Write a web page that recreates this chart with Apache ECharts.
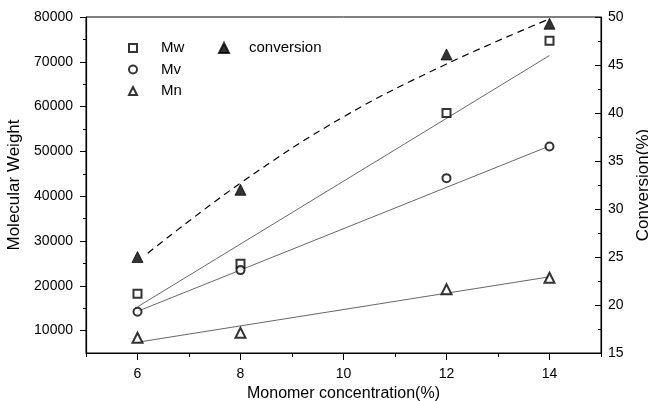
<!DOCTYPE html>
<html>
<head>
<meta charset="utf-8">
<script src="https://cdn.jsdelivr.net/npm/echarts@6/dist/echarts.min.js"></script>
<style>
  html, body { margin: 0; padding: 0; background: #fff; }
  #chart { width: 648px; height: 401px; }
</style>
</head>
<body>
<div id="chart"></div>
<script>
// Monomer concentration (%) of each sample
const concentration = [6, 8, 12, 14];

// Molecular weights
const mwValues = [18200, 24900, 58550, 74700];
const mvValues = [14200, 23500, 44030, 51100];
const mnValues = [8400, 9500, 19230, 21800];

// Conversion (%)
const conversionValues = [25.0, 32.0, 46.1, 49.3];

// Straight trend lines (ends at 6 % and 14 %)
const fitX = [6, 14];
const mwFit = [15300, 71400];
const mvFit = [14300, 51200];
const mnFit = [7400, 22000];

// Dashed conversion trend curve
const convCurveX = [6.2, 8, 10, 12, 14];
const convCurveY = [25.4, 32.7, 39.6, 45.1, 49.8];

// Axis ticks
const xMajorTicks = [6, 8, 10, 12, 14];
const xMinorTicks = [5, 7, 9, 11, 13, 15];
const leftMajorTicks = [10000, 20000, 30000, 40000, 50000, 60000, 70000, 80000];
const leftMinorTicks = [15000, 25000, 35000, 45000, 55000, 65000, 75000];
const rightMajorTicks = [15, 20, 25, 30, 35, 40, 45, 50];
const rightMinorTicks = [17.5, 22.5, 27.5, 32.5, 37.5, 42.5, 47.5];

const FONT = 'Liberation Sans, Arial, sans-serif';
const INK = '#000';

const pairs = (xs, ys) => xs.map((x, i) => [x, ys[i]]);

const chart = echarts.init(document.getElementById('chart'));

const markerSeries = (name, symbol, size, values, yAxisIndex) => ({
  name, type: 'scatter', symbol, symbolSize: size,
  xAxisIndex: 0, yAxisIndex,
  data: pairs(concentration, values),
  itemStyle: { color: INK, borderColor: INK, borderWidth: 0.9 },
  z: 5
});

const fitSeries = (ys) => ({
  type: 'line', xAxisIndex: 0, yAxisIndex: 0,
  data: pairs(fitX, ys), symbol: 'none', silent: true,
  lineStyle: { color: '#555', width: 0.9 }, z: 3
});

const hiddenLine = { show: false };
const plainNumber = (v) => String(v);

chart.setOption({
  animation: false,
  backgroundColor: '#fff',
  grid: {
    left: 86, right: 47, top: 17, bottom: 48,
    containLabel: false, outerBoundsMode: 'none',
    show: true, borderColor: INK, borderWidth: 1
  },
  legend: [
    {
      data: ['Mw', 'Mv', 'Mn'], orient: 'vertical',
      left: 123, top: 35, itemWidth: 8, itemHeight: 8, itemGap: 5.5,
      textStyle: { fontFamily: FONT, fontSize: 15, color: INK, lineHeight: 16, padding: [0, 0, 0, 19] }
    },
    {
      data: ['conversion'], orient: 'vertical',
      left: 213, top: 35, itemWidth: 10, itemHeight: 10,
      textStyle: { fontFamily: FONT, fontSize: 15, color: INK, lineHeight: 16, padding: [0, 0, 0, 15] }
    }
  ],
  xAxis: [
    {
      type: 'value', min: 5, max: 15, position: 'bottom',
      name: 'Monomer concentration(%)', nameLocation: 'middle', nameGap: 33,
      nameTextStyle: { fontFamily: FONT, fontSize: 16, color: INK },
      axisLine: { show: true, lineStyle: { color: INK, width: 1.2 } },
      axisTick: { show: true, customValues: xMajorTicks, length: 7, inside: false, lineStyle: { color: INK, width: 1 } },
      axisLabel: { customValues: xMajorTicks, fontFamily: FONT, fontSize: 14, color: INK, margin: 14 },
      splitLine: { show: false }
    },
    {
      type: 'value', min: 5, max: 15, position: 'bottom', gridIndex: 0,
      axisLine: hiddenLine,
      axisTick: { show: true, customValues: xMinorTicks, length: 4, lineStyle: { color: INK, width: 1 } },
      axisLabel: { show: false }, splitLine: { show: false }
    }
  ],
  yAxis: [
    {
      type: 'value', min: 5000, max: 80000, position: 'left',
      name: 'Molecular Weight', nameLocation: 'middle', nameGap: 52,
      nameTextStyle: { fontFamily: FONT, fontSize: 17, color: INK },
      axisLine: { show: true, lineStyle: { color: INK, width: 1.2 } },
      axisTick: { show: true, customValues: leftMajorTicks, length: 6, lineStyle: { color: INK, width: 1 } },
      axisLabel: { customValues: leftMajorTicks, formatter: plainNumber, fontFamily: FONT, fontSize: 14, color: INK, margin: 13 },
      splitLine: { show: false }
    },
    {
      type: 'value', min: 15, max: 50, position: 'right',
      name: 'Conversion(%)', nameLocation: 'middle', nameGap: 31,
      nameTextStyle: { fontFamily: FONT, fontSize: 17, color: INK },
      axisLine: { show: true, lineStyle: { color: INK, width: 1.2 } },
      axisTick: { show: true, inside: true, customValues: rightMajorTicks, length: 6, lineStyle: { color: INK, width: 1 } },
      axisLabel: { customValues: rightMajorTicks, formatter: plainNumber, fontFamily: FONT, fontSize: 14, color: INK, margin: 7 },
      splitLine: { show: false }
    },
    {
      type: 'value', min: 5000, max: 80000, position: 'left',
      axisLine: hiddenLine,
      axisTick: { show: true, customValues: leftMinorTicks, length: 3, lineStyle: { color: INK, width: 1 } },
      axisLabel: { show: false }, splitLine: { show: false }
    },
    {
      type: 'value', min: 15, max: 50, position: 'right',
      axisLine: hiddenLine,
      axisTick: { show: true, inside: true, customValues: rightMinorTicks, length: 3, lineStyle: { color: INK, width: 1 } },
      axisLabel: { show: false }, splitLine: { show: false }
    }
  ],
  series: [
    markerSeries('Mw', 'emptyRect', 8, mwValues, 0),
    markerSeries('Mv', 'emptyCircle', 8, mvValues, 0),
    markerSeries('Mn', 'emptyTriangle', 10, mnValues, 0),
    markerSeries('conversion', 'triangle', 11, conversionValues, 1),
    fitSeries(mwFit),
    fitSeries(mvFit),
    fitSeries(mnFit),
    {
      type: 'line', xAxisIndex: 0, yAxisIndex: 1,
      data: pairs(convCurveX, convCurveY), smooth: 0.4, symbol: 'none', silent: true,
      lineStyle: { color: INK, width: 1.2, type: [7, 5] }, z: 3
    }
  ]
});
</script>
</body>
</html>
